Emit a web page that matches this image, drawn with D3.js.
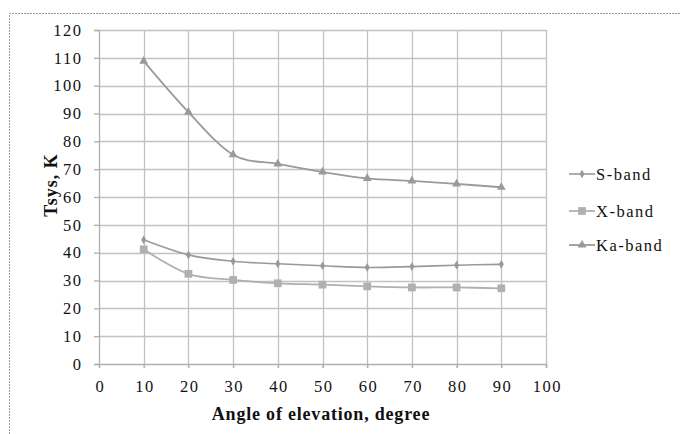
<!DOCTYPE html>
<html>
<head>
<meta charset="utf-8">
<script src="https://cdn.jsdelivr.net/npm/d3@7"></script>
<style>
  body { margin: 0; background: #fff; }
  text { font-family: "Liberation Serif", "Times New Roman", serif; fill: #111; }
</style>
</head>
<body>
<svg id="chart" width="680" height="434"></svg>
<script>
// angles of elevation, degree
var angles = [10, 20, 30, 40, 50, 60, 70, 80, 90]
var sBand = [44.6, 39.2, 36.9, 36.0, 35.3, 34.7, 35.0, 35.5, 35.8]
var xBand = [41.2, 32.4, 30.2, 29.0, 28.5, 27.9, 27.5, 27.5, 27.2]
var kaBand = [108.8, 90.5, 75.2, 71.9, 69.0, 66.7, 65.8, 64.7, 63.5]
var xTicks = [0, 10, 20, 30, 40, 50, 60, 70, 80, 90, 100]
var yTicks = [0, 10, 20, 30, 40, 50, 60, 70, 80, 90, 100, 110, 120]
var seriesNames = ["S-band", "X-band", "Ka-band"]

var svg = d3.select("#chart")
var margin = { top: 30, left: 99, right: 134, bottom: 70 }
var width = 680 - margin.left - margin.right
var height = 434 - margin.top - margin.bottom

// dashed frame round the chart
svg.append("path")
    .attr("d", "M9.5,434 L9.5,13.5 L680,13.5")
    .attr("fill", "none")
    .attr("stroke", "#999")
    .attr("stroke-dasharray", "2,1")

var x = d3.scaleLinear().domain([0, 100]).range([0, width])
var y = d3.scaleLinear().domain([0, 120]).range([height, 0])

var g = svg.append("g").attr("transform", `translate(${margin.left},${margin.top})`)

// grid
g.selectAll(".hgrid").data(yTicks.slice(1)).join("line")
    .attr("x1", 0).attr("x2", width)
    .attr("y1", d => Math.round(y(d)) + 0.5).attr("y2", d => Math.round(y(d)) + 0.5)
    .attr("stroke", "#c2c2c2").attr("stroke-width", 1.3)
g.selectAll(".vgrid").data(xTicks.slice(1)).join("line")
    .attr("y1", 0).attr("y2", height + 4)
    .attr("x1", d => Math.round(x(d)) + 0.5).attr("x2", d => Math.round(x(d)) + 0.5)
    .attr("stroke", "#c2c2c2").attr("stroke-width", 1.3)

// axes
var yAxis = g.append("g")
    .call(d3.axisLeft(y).tickValues(yTicks).tickSize(5).tickPadding(11.5))
var xAxis = g.append("g")
    .attr("transform", `translate(0,${height})`)
    .call(d3.axisBottom(x).tickValues(xTicks).tickSize(4).tickPadding(12))
;[yAxis, xAxis].forEach(function (a) {
    a.attr("font-family", null)
    a.selectAll("path, line").attr("stroke", "#b0b0b0").attr("stroke-width", 1.3)
    a.selectAll("text").attr("font-size", 16.5).attr("fill", "#111")
        .attr("letter-spacing", 1.5)
})
// letter-spacing adds trailing room, nudge centred labels back
xAxis.selectAll("text").attr("dx", 0.75)

// axis titles
svg.append("text")
    .attr("x", 321).attr("y", 420)
    .attr("text-anchor", "middle")
    .attr("font-size", 18).attr("font-weight", "bold")
    .attr("letter-spacing", 0.8)
    .text("Angle of elevation, degree")
svg.append("text")
    .attr("transform", "translate(57,185) rotate(-90)")
    .attr("text-anchor", "middle")
    .attr("font-size", 18).attr("font-weight", "bold")
    .attr("letter-spacing", 1)
    .text("Tsys, K")

var line = d3.line()
    .x(d => x(d[0])).y(d => y(d[1]))
    .curve(d3.curveCatmullRom.alpha(0))

var series = [
    { name: seriesNames[0], values: sBand, color: "#999", marker: d3.symbolDiamond, size: 22, width: 1.6 },
    { name: seriesNames[1], values: xBand, color: "#b0b0b0", marker: d3.symbolSquare, size: 60, width: 1.8 },
    { name: seriesNames[2], values: kaBand, color: "#9a9a9a", marker: d3.symbolTriangle, size: 34, width: 1.8 }
]

series.forEach(function (s) {
    var pts = angles.map((a, i) => [a, s.values[i]])
    g.append("path")
        .attr("d", line(pts))
        .attr("fill", "none")
        .attr("stroke", s.color)
        .attr("stroke-width", s.width)
    g.selectAll(null).data(pts).join("path")
        .attr("transform", d => `translate(${x(d[0])},${y(d[1])})`)
        .attr("d", d3.symbol().type(s.marker).size(s.size))
        .attr("fill", s.color)
})

// legend
var legendY = [174, 211, 245]
series.forEach(function (s, i) {
    var lg = svg.append("g").attr("transform", `translate(569,${legendY[i]})`)
    lg.append("line").attr("x1", 0).attr("x2", 26).attr("y1", 0).attr("y2", 0)
        .attr("stroke", s.color).attr("stroke-width", s.width)
    lg.append("path").attr("transform", "translate(13,0)")
        .attr("d", d3.symbol().type(s.marker).size(s.size))
        .attr("fill", s.color)
    lg.append("text").attr("x", 27).attr("y", 5.5)
        .attr("font-size", 16.5)
        .attr("letter-spacing", 1.5)
        .text(s.name)
})
</script>
</body>
</html>
